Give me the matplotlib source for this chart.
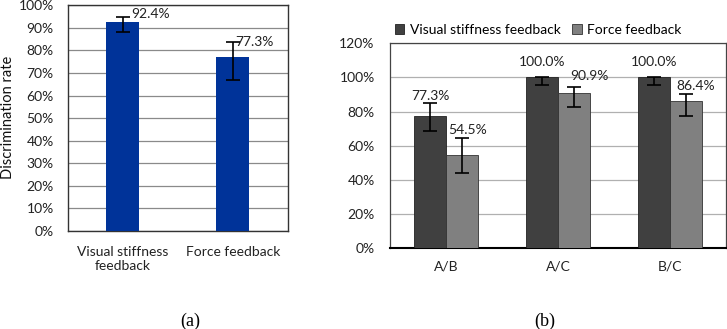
import matplotlib
matplotlib.use("Agg")
import matplotlib.pyplot as plt
from matplotlib.patches import Patch
import numpy as np

plt.rcParams['font.family'] = ['Lato', 'DejaVu Sans']

# ---- data (a) ----
cats_a = ["Visual stiffness\nfeedback", "Force feedback"]
vals_a = [92.4, 77.3]
low_a = [88.1, 67.0]
high_a = [94.8, 83.7]
labels_a = ["92.4%", "77.3%"]

# ---- data (b) ----
cats_b = ["A/B", "A/C", "B/C"]
series_b = ["Visual stiffness feedback", "Force feedback"]
visual_b = [77.3, 100.0, 100.0]
visual_low = [68.4, 95.3, 95.3]
visual_high = [84.8, 100.0, 100.0]
force_b = [54.5, 90.9, 86.4]
force_low = [44.1, 82.8, 77.7]
force_high = [64.3, 94.5, 90.2]

W, H = 727, 329
fig = plt.figure(figsize=(W / 100, H / 100), dpi=100)

def ax_rect(l, t, r, b):
    return [l / W, 1 - b / H, (r - l) / W, (b - t) / H]

FS = 10
# ---------- (a) ----------
ax1 = fig.add_axes(ax_rect(67.7, 5.3, 288, 231))
x = np.arange(len(cats_a))
ax1.bar(x, vals_a, width=0.3, color="#003399", zorder=3)
yerr = [np.array(vals_a) - np.array(low_a), np.array(high_a) - np.array(vals_a)]
ax1.errorbar(x, vals_a, yerr=yerr, fmt="none", ecolor="black", elinewidth=1.2,
             capsize=5, capthick=1.2, zorder=4)
ax1.set_xlim(-0.5, 1.5)
ax1.set_ylim(0, 100)
ax1.set_yticks(np.arange(0, 101, 10))
ax1.set_yticklabels([f"{v}%" for v in range(0, 101, 10)], fontsize=FS, color="#222222")
ax1.set_xticks(x)
ax1.set_xticklabels(cats_a, fontsize=FS, color="#222222", linespacing=1.15)
ax1.tick_params(axis="y", length=0, pad=10)
ax1.tick_params(axis="x", length=0, pad=11)
ax1.grid(axis="y", color="#8a8a8a", linewidth=0.9, zorder=0)
ax1.set_axisbelow(True)
for s in ax1.spines.values():
    s.set_color("#333333")
    s.set_linewidth(1.0)
fig.text(8 / W, 1 - 117 / H, "Discrimination rate", fontsize=FS + 0.5, rotation=90,
         ha="center", va="center", color="#111111")
label_pos_a = [(0.08, 96.3), (0.02, 83.6)]
for (dx, y), lab, xi in zip(label_pos_a, labels_a, x):
    ax1.text(xi + dx, y, lab, fontsize=FS, ha="left", va="center", color="#222222")

# ---------- (b) ----------
ax2 = fig.add_axes(ax_rect(390, 43.3, 726, 248.3))
xb = np.arange(len(cats_b))
bw = 0.286
ax2.bar(xb - bw / 2, visual_b, width=bw, color="#404040", edgecolor="#222222",
        linewidth=0.6, zorder=3, label=series_b[0])
ax2.bar(xb + bw / 2, force_b, width=bw, color="#808080", edgecolor="#333333",
        linewidth=0.6, zorder=3, label=series_b[1])
ax2.errorbar(xb - bw / 2, visual_b,
             yerr=[np.array(visual_b) - np.array(visual_low), np.array(visual_high) - np.array(visual_b)],
             fmt="none", ecolor="black", elinewidth=1.2, capsize=5, capthick=1.2, zorder=4)
ax2.errorbar(xb + bw / 2, force_b,
             yerr=[np.array(force_b) - np.array(force_low), np.array(force_high) - np.array(force_b)],
             fmt="none", ecolor="black", elinewidth=1.2, capsize=5, capthick=1.2, zorder=4)
ax2.set_xlim(-0.5, 2.5)
ax2.set_ylim(0, 120)
ax2.set_yticks(np.arange(0, 121, 20))
ax2.set_yticklabels([f"{v}%" for v in range(0, 121, 20)], fontsize=FS, color="#222222")
ax2.set_xticks(xb)
ax2.set_xticklabels(cats_b, fontsize=FS, color="#222222")
ax2.tick_params(axis="y", length=0, pad=11)
ax2.tick_params(axis="x", length=0, pad=9)
ax2.grid(axis="y", color="#b0b0b0", linewidth=0.9, zorder=0)
ax2.set_axisbelow(True)
for s in ax2.spines.values():
    s.set_color("#444444")
    s.set_linewidth(0.9)
ax2.spines["bottom"].set_color("black")
ax2.spines["bottom"].set_linewidth(1.5)

label_pos_b = [
    (-bw / 2, 88.9, "77.3%"), (bw / 2 + 0.05, 69.3, "54.5%"),
    (1 - bw / 2, 109.0, "100.0%"), (1 + bw / 2 + 0.14, 100.6, "90.9%"),
    (2 - bw / 2, 109.0, "100.0%"), (2 + bw / 2 + 0.09, 95.1, "86.4%"),
]
for xx, yy, lab in label_pos_b:
    ax2.text(xx, yy, lab, fontsize=FS, ha="center", va="center", color="#222222")

handles = [Patch(facecolor="#404040", edgecolor="#222222", linewidth=0.6),
           Patch(facecolor="#808080", edgecolor="#333333", linewidth=0.6)]
fig.legend(handles, series_b, loc="center", bbox_to_anchor=(538 / W, 1 - 30 / H),
           ncol=2, frameon=False, fontsize=FS, handlelength=0.7, handleheight=0.7,
           handletextpad=0.4, columnspacing=0.8, borderpad=0)

fig.text(190 / W, 1 - 321.7 / H, "(a)", family="Liberation Serif", fontsize=13,
         ha="center", va="center")
fig.text(545 / W, 1 - 321.7 / H, "(b)", family="Liberation Serif", fontsize=13,
         ha="center", va="center")

fig.savefig("out.png", dpi=100)
